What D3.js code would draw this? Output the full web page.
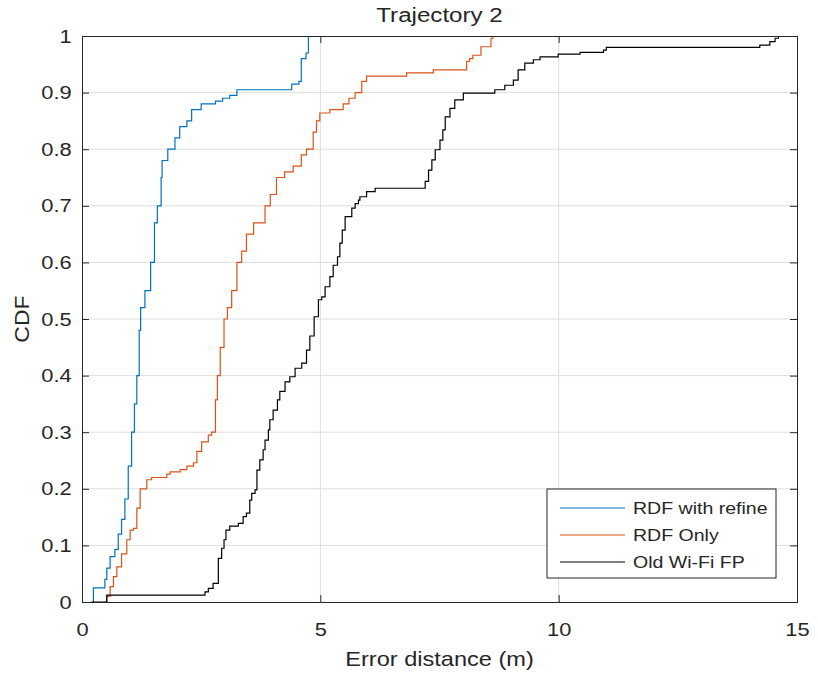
<!DOCTYPE html>
<html lang="en">
<head>
  <meta charset="UTF-8">
  <title>Trajectory 2 CDF</title>
  <style>
    body { margin: 0; background: #fff; }
    svg text { font-family: "Liberation Sans", Arial, sans-serif; fill: #262626; }
  </style>
</head>
<body>
  <svg class="cdf-chart"></svg>
  <script src="https://cdn.jsdelivr.net/npm/d3@7/dist/d3.min.js"></script>
  <script>
    var w = 818;
    var h = 677;
    var margin = {top: 36, right: 21, bottom: 75, left: 82};

    // step breakpoints: at error x the CDF rises to y
    var refineX = [0.2, 0.24, 0.48, 0.52, 0.59, 0.69, 0.76, 0.83, 0.9, 0.97, 1.04, 1.1, 1.15, 1.2, 1.23, 1.32, 1.44, 1.52, 1.58, 1.66, 1.68, 1.8, 1.95, 2.05, 2.2, 2.3, 2.5, 2.8, 2.95, 3.1, 3.25, 4.4, 4.55, 4.6, 4.7, 4.75];
    var refineY = [0, 0.025, 0.04, 0.06, 0.08, 0.093, 0.12, 0.146, 0.182, 0.24, 0.3, 0.35, 0.4, 0.48, 0.52, 0.55, 0.6, 0.67, 0.7, 0.75, 0.78, 0.8, 0.82, 0.84, 0.85, 0.87, 0.88, 0.885, 0.89, 0.895, 0.905, 0.915, 0.92, 0.96, 0.97, 1];

    var onlyX = [0.47, 0.52, 0.59, 0.66, 0.73, 0.83, 0.94, 1.01, 1.08, 1.15, 1.22, 1.36, 1.46, 1.78, 1.85, 2.06, 2.2, 2.34, 2.41, 2.51, 2.65, 2.72, 2.8, 2.84, 2.9, 2.98, 3.05, 3.14, 3.25, 3.35, 3.45, 3.6, 3.84, 3.95, 4.08, 4.25, 4.43, 4.6, 4.71, 4.85, 4.92, 4.99, 5.2, 5.48, 5.6, 5.73, 5.87, 5.97, 6.81, 7.37, 8.07, 8.13, 8.2, 8.37, 8.58, 8.62];
    var onlyY = [0, 0.01, 0.027, 0.045, 0.062, 0.085, 0.11, 0.127, 0.13, 0.166, 0.2, 0.216, 0.22, 0.226, 0.23, 0.234, 0.24, 0.246, 0.266, 0.283, 0.295, 0.3, 0.357, 0.4, 0.45, 0.5, 0.52, 0.55, 0.6, 0.62, 0.65, 0.67, 0.7, 0.72, 0.75, 0.76, 0.77, 0.79, 0.8, 0.83, 0.85, 0.864, 0.87, 0.88, 0.89, 0.9, 0.92, 0.929, 0.935, 0.94, 0.955, 0.96, 0.966, 0.981, 0.996, 1];

    var oldX = [0.2, 0.52, 2.58, 2.65, 2.75, 2.86, 2.93, 2.98, 3.02, 3.1, 3.28, 3.38, 3.45, 3.52, 3.56, 3.63, 3.67, 3.73, 3.8, 3.84, 3.91, 3.94, 4.01, 4.1,
      4.15, 4.26, 4.36, 4.47, 4.61, 4.71, 4.78, 4.87, 4.96, 5.03, 5.1, 5.2, 5.27, 5.36, 5.41, 5.46, 5.52, 5.66, 5.73, 5.8,
      5.83, 5.97, 6.15, 7.2, 7.27, 7.34, 7.41, 7.51, 7.57, 7.62, 7.72, 7.82, 8.0,
      8.66, 8.87, 9.05, 9.15, 9.29, 9.47, 9.61, 9.99, 10.45, 10.94, 11.0, 14.22, 14.43, 14.54, 14.61];
    var oldY = [0, 0.012, 0.018, 0.024, 0.033, 0.077, 0.095, 0.11, 0.127, 0.134, 0.139, 0.151, 0.157, 0.18, 0.192, 0.198, 0.233, 0.251, 0.269, 0.286, 0.304, 0.322, 0.339, 0.357,
      0.372, 0.389, 0.398, 0.413, 0.422, 0.445, 0.47, 0.504, 0.534, 0.539, 0.557, 0.575, 0.595, 0.61, 0.634, 0.657, 0.681, 0.696, 0.704, 0.71,
      0.716, 0.725, 0.731, 0.743, 0.763, 0.781, 0.799, 0.816, 0.834, 0.857, 0.872, 0.887, 0.899,
      0.905, 0.913, 0.922, 0.94, 0.952, 0.958, 0.963, 0.968, 0.971, 0.975, 0.98, 0.984, 0.99, 0.996, 1];

    var seriesNames = ["RDF with refine", "RDF Only", "Old Wi-Fi FP"];
    var seriesColors = ["#0072BD", "#D95319", "#000000"];
    var xTicks = [0, 5, 10, 15];
    var yTicks = [0, 0.1, 0.2, 0.3, 0.4, 0.5, 0.6, 0.7, 0.8, 0.9, 1];

    var series = [
      {name: seriesNames[0], color: seriesColors[0], xs: refineX, ys: refineY},
      {name: seriesNames[1], color: seriesColors[1], xs: onlyX, ys: onlyY},
      {name: seriesNames[2], color: seriesColors[2], xs: oldX, ys: oldY}
    ];

    var pw = w - margin.left - margin.right;
    var ph = h - margin.top - margin.bottom;
    var stretch = "scale(1.15,1)";

    var x = d3.scaleLinear().domain([0, 15]).range([0, pw]);
    var y = d3.scaleLinear().domain([0, 1]).range([ph, 0]);

    var svg = d3.select(".cdf-chart").attr("width", w).attr("height", h);
    var g = svg.append("g").attr("transform", "translate(" + margin.left + "," + margin.top + ")");

    // grid
    g.append("g").selectAll("line").data(xTicks.slice(1, -1)).enter().append("line")
      .attr("x1", d => x(d)).attr("x2", d => x(d)).attr("y1", 0).attr("y2", ph)
      .attr("stroke", "#dedede").attr("stroke-width", 1);
    g.append("g").selectAll("line").data(yTicks.slice(1, -1)).enter().append("line")
      .attr("x1", 0).attr("x2", pw).attr("y1", d => y(d)).attr("y2", d => y(d))
      .attr("stroke", "#dedede").attr("stroke-width", 1);

    // curves
    var line = d3.line().x(d => x(d[0])).y(d => y(d[1])).curve(d3.curveStepAfter);
    series.forEach(function(s) {
      g.append("path")
        .attr("d", line(s.xs.map((v, i) => [v, s.ys[i]])))
        .attr("fill", "none")
        .attr("stroke", s.color)
        .attr("stroke-width", 1.2);
    });

    // axes (MATLAB style: ticks inside, on all sides)
    var tl = 7;
    var xAxis = g.append("g").attr("transform", "translate(0," + ph + ")")
      .call(d3.axisBottom(x).tickValues(xTicks).tickSize(-tl).tickPadding(21).tickFormat(d3.format("d")));
    g.append("g").call(d3.axisTop(x).tickValues(xTicks).tickSize(-tl).tickFormat(""));
    var yAxis = g.append("g")
      .call(d3.axisLeft(y).tickValues(yTicks).tickSize(-tl).tickPadding(9).tickFormat(d => d === 0 || d === 1 ? d : d3.format(".1f")(d)));
    g.append("g").attr("transform", "translate(" + pw + ",0)")
      .call(d3.axisRight(y).tickValues(yTicks).tickSize(-tl).tickFormat(""));

    g.selectAll(".domain").attr("stroke", "#262626").attr("stroke-width", 1);
    g.selectAll(".tick line").attr("stroke", "#262626");
    xAxis.selectAll("text").attr("font-size", 19).attr("fill", "#262626").attr("transform", stretch);
    yAxis.selectAll("text").attr("font-size", 19).attr("fill", "#262626").attr("transform", stretch);

    // title & labels
    svg.append("text").attr("transform", "translate(" + (margin.left + pw / 2) + ",22) " + stretch)
      .attr("text-anchor", "middle").attr("font-size", 21).text("Trajectory 2");
    svg.append("text").attr("transform", "translate(" + (margin.left + pw / 2) + ",666) " + stretch)
      .attr("text-anchor", "middle").attr("font-size", 20.5).text("Error distance (m)");
    svg.append("text").attr("transform", "translate(29," + (margin.top + ph / 2) + ") rotate(-90) scale(1.15,1)")
      .attr("text-anchor", "middle").attr("font-size", 20).text("CDF");

    // legend
    var lg = svg.append("g").attr("transform", "translate(547,489)");
    lg.append("rect").attr("width", 229).attr("height", 89)
      .attr("fill", "#fff").attr("stroke", "#262626").attr("stroke-width", 1);
    var items = lg.selectAll(".item").data(series).enter().append("g")
      .attr("transform", (d, i) => "translate(0," + (19 + i * 27) + ")");
    items.append("line").attr("x1", 13).attr("x2", 78).attr("y1", 0).attr("y2", 0)
      .attr("stroke", d => d.color).attr("stroke-width", 1.2);
    items.append("text").attr("transform", "translate(86,0) " + stretch)
      .attr("dy", "0.35em").attr("font-size", 17).text(d => d.name);
  </script>
</body>
</html>
